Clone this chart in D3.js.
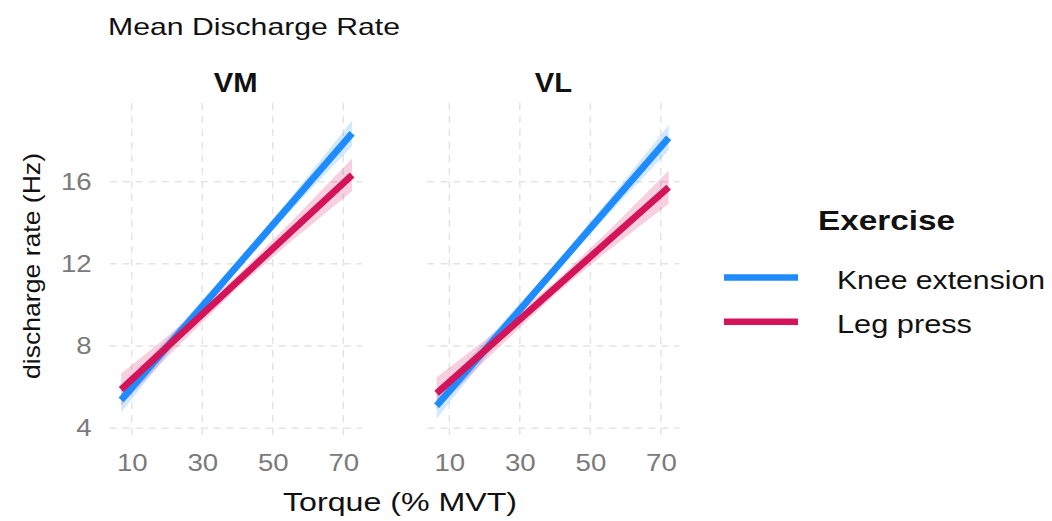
<!DOCTYPE html>
<html>
<head>
<meta charset="utf-8">
<script src="https://cdn.jsdelivr.net/npm/d3@7"></script>
<style>
  html, body { margin: 0; padding: 0; background: #fff; }
  svg { display: block; font-family: "Liberation Sans", Arial, sans-serif; }
</style>
</head>
<body>
<svg id="chart" width="1052" height="521"></svg>
<script>
// ---------------- data ----------------
const muscles = ["VM", "VL"];
const exercises = ["Knee extension", "Leg press"];
const xTicks = [10, 30, 50, 70];
const yTicks = [4, 8, 12, 16];

// torque points (% MVT) at which the fitted lines / CI are read
const torqueVM = [7, 20, 40, 55, 72.5];
const torqueVL = [6.4, 20, 40, 55, 72.2];

// fitted discharge rate (Hz)
const fitVM_knee = [5.37, 7.95, 11.92, 14.89, 18.36];
const fitVM_leg  = [5.88, 7.95, 11.14, 13.54, 16.33];
const fitVL_knee = [5.09, 7.79, 11.75, 14.73, 18.14];
const fitVL_leg  = [5.70, 7.77, 10.82, 13.11, 15.73];

// half-width of the confidence band (Hz)
const ciVM_knee = [0.60, 0.38, 0.22, 0.32, 0.62];
const ciVM_leg  = [0.78, 0.50, 0.30, 0.47, 0.80];
const ciVL_knee = [0.62, 0.40, 0.22, 0.34, 0.62];
const ciVL_leg  = [0.78, 0.50, 0.30, 0.47, 0.80];

// ---------------- layout ----------------
const colors = { "Knee extension": "#1E8CFF", "Leg press": "#D41459" };
const panels = [
  { name: "VM", torque: torqueVM, x0: 109.7, x1: 361.8,
    series: [
      { ex: "Knee extension", fit: fitVM_knee, ci: ciVM_knee },
      { ex: "Leg press", fit: fitVM_leg, ci: ciVM_leg } ] },
  { name: "VL", torque: torqueVL, x0: 427.3, x1: 679.4,
    series: [
      { ex: "Knee extension", fit: fitVL_knee, ci: ciVL_knee },
      { ex: "Leg press", fit: fitVL_leg, ci: ciVL_leg } ] }
];
const panelTop = 103, panelBottom = 435;
const STRETCH = 1.15;

const svg = d3.select("#chart");

function stretch(sel, k) {
  sel.each(function () {
    const w = this.getComputedTextLength();
    d3.select(this).attr("textLength", w * k).attr("lengthAdjust", "spacingAndGlyphs");
  });
}

const y = d3.scaleLinear().domain([3.67, 19.83]).range([panelBottom, panelTop]);

panels.forEach((p, pi) => {
  const x = d3.scaleLinear().domain([3.75, 75.25]).range([p.x0, p.x1]);
  const g = svg.append("g");

  // grid
  g.selectAll(".hg").data(yTicks).join("line")
    .attr("x1", p.x0).attr("x2", p.x1)
    .attr("y1", d => y(d)).attr("y2", d => y(d))
    .attr("stroke", "#E4E4E4").attr("stroke-width", 1.5).attr("stroke-dasharray", "7,6");
  g.selectAll(".vg").data(xTicks).join("line")
    .attr("x1", d => x(d)).attr("x2", d => x(d))
    .attr("y1", panelTop).attr("y2", panelBottom)
    .attr("stroke", "#E4E4E4").attr("stroke-width", 1.5).attr("stroke-dasharray", "7,6");

  // ribbons
  p.series.forEach(s => {
    const pts = p.torque.map((t, i) => ({ t, f: s.fit[i], c: s.ci[i] }));
    const area = d3.area().x(d => x(d.t)).y0(d => y(d.f - d.c)).y1(d => y(d.f + d.c));
    g.append("path").datum(pts).attr("d", area)
      .attr("fill", colors[s.ex]).attr("fill-opacity", 0.2);
  });
  // lines
  p.series.forEach(s => {
    const pts = p.torque.map((t, i) => ({ t, f: s.fit[i] }));
    const line = d3.line().x(d => x(d.t)).y(d => y(d.f));
    g.append("path").datum(pts).attr("d", line)
      .attr("fill", "none").attr("stroke", colors[s.ex]).attr("stroke-width", 6.8);
  });

  // strip label
  const st = g.append("text").attr("x", (p.x0 + p.x1) / 2).attr("y", 92)
    .attr("text-anchor", "middle").attr("font-size", 27).attr("font-weight", "bold")
    .attr("fill", "#111").text(p.name);
  stretch(st, 1.08);

  // x axis ticks
  const xa = g.append("g").attr("transform", `translate(0,${panelBottom})`)
    .call(d3.axisBottom(x).tickValues(xTicks).tickSize(0).tickPadding(19));
  xa.select(".domain").remove();
  xa.selectAll("text").attr("font-size", 24).attr("fill", "#7a7a7a")
    .attr("font-family", "Liberation Sans, Arial, sans-serif").attr("dy", "0.71em");
  stretch(xa.selectAll("text"), STRETCH);

  // y axis only on first panel
  if (pi === 0) {
    const ya = g.append("g").attr("transform", `translate(${p.x0},0)`)
      .call(d3.axisLeft(y).tickValues(yTicks).tickSize(0).tickPadding(18));
    ya.select(".domain").remove();
    ya.selectAll("text").attr("font-size", 24).attr("fill", "#7a7a7a")
      .attr("font-family", "Liberation Sans, Arial, sans-serif");
    stretch(ya.selectAll("text"), STRETCH);
  }
});

// title
svg.append("text").attr("x", 108).attr("y", 35).attr("font-size", 24)
  .attr("fill", "#111").attr("textLength", 292).attr("lengthAdjust", "spacingAndGlyphs")
  .text("Mean Discharge Rate");

// axis titles
svg.append("text").attr("x", 400).attr("y", 511).attr("text-anchor", "middle")
  .attr("font-size", 25).attr("fill", "#111")
  .attr("textLength", 234).attr("lengthAdjust", "spacingAndGlyphs")
  .text("Torque (% MVT)");
svg.append("text").attr("transform", "translate(40,266) rotate(-90)")
  .attr("text-anchor", "middle").attr("font-size", 24.5).attr("fill", "#111")
  .attr("textLength", 226).attr("lengthAdjust", "spacingAndGlyphs")
  .text("discharge rate (Hz)");

// legend
const lg = svg.append("g");
lg.append("text").attr("x", 818).attr("y", 230).attr("font-size", 27)
  .attr("font-weight", "bold").attr("fill", "#111")
  .attr("textLength", 137).attr("lengthAdjust", "spacingAndGlyphs").text("Exercise");
const legendY = [277.5, 321.7];
const labelW = [208, 135];
exercises.forEach((e, i) => {
  lg.append("line").attr("x1", 724).attr("x2", 798)
    .attr("y1", legendY[i]).attr("y2", legendY[i])
    .attr("stroke", colors[e]).attr("stroke-width", 6.5);
  lg.append("text").attr("x", 837).attr("y", legendY[i] + 11).attr("font-size", 25)
    .attr("fill", "#111").attr("textLength", labelW[i]).attr("lengthAdjust", "spacingAndGlyphs")
    .text(e);
});
</script>
</body>
</html>
